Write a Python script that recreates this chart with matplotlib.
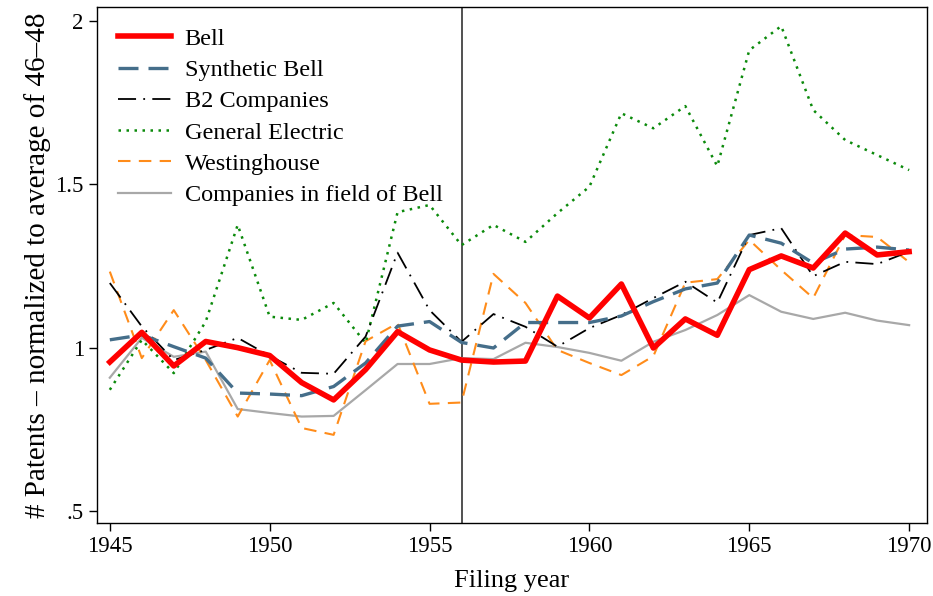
import matplotlib.pyplot as plt

years = list(range(1945, 1971))

bell = [0.956, 1.047, 0.944, 1.019, 1.000, 0.976, 0.893, 0.840, 0.933, 1.049,
        0.993, 0.962, 0.956, 0.959, 1.158, 1.091, 1.195, 0.999, 1.088, 1.038,
        1.239, 1.281, 1.244, 1.351, 1.284, 1.294]
synthetic_bell = [1.024, 1.039, 1.003, 0.968, 0.861, 0.858, 0.853, 0.881, 0.953, 1.066,
                  1.080, 1.016, 0.999, 1.077, 1.077, 1.077, 1.097, 1.141, 1.180, 1.198,
                  1.345, 1.320, 1.259, 1.302, 1.308, 1.299]
b2_companies = [1.198, 1.065, 0.962, 0.993, 1.030, 0.975, 0.923, 0.920, 1.034, 1.291,
                1.115, 1.018, 1.103, 1.064, 1.003, 1.060, 1.100, 1.152, 1.202, 1.138,
                1.345, 1.366, 1.219, 1.263, 1.256, 1.294]
general_electric = [0.871, 1.024, 0.922, 1.080, 1.376, 1.095, 1.085, 1.137, 1.014, 1.415,
                    1.437, 1.314, 1.376, 1.324, 1.412, 1.493, 1.718, 1.672, 1.740, 1.556,
                    1.911, 1.985, 1.728, 1.636, 1.590, 1.544]
westinghouse = [1.233, 0.968, 1.115, 0.962, 0.789, 0.962, 0.754, 0.733, 1.020, 1.075,
                0.828, 0.832, 1.226, 1.137, 0.993, 0.953, 0.916, 0.974, 1.199, 1.210,
                1.330, 1.238, 1.152, 1.345, 1.339, 1.262]
field_of_bell = [0.908, 1.030, 0.972, 0.988, 0.812, 0.800, 0.789, 0.791, 0.870, 0.950,
                 0.950, 0.968, 0.965, 1.015, 1.002, 0.984, 0.960, 1.018, 1.054, 1.100,
                 1.161, 1.110, 1.088, 1.107, 1.083, 1.069]

y_ticks = [0.5, 1, 1.5, 2]
y_tick_labels = [".5", "1", "1.5", "2"]
x_ticks = [1945, 1950, 1955, 1960, 1965, 1970]
break_year = 1956

plt.rcParams['font.family'] = ['Liberation Serif', 'DejaVu Serif']

fig = plt.figure(figsize=(9.33, 5.96), dpi=100)
ax = fig.add_axes([0.104, 0.1225, 0.8896, 0.8655])

ax.axvline(break_year, color='#333333', lw=1.2, zorder=1)

l_field, = ax.plot(years, field_of_bell, color='#a8a8a8', lw=1.6, zorder=2)
l_west, = ax.plot(years, westinghouse, color='#ff8c1a', lw=1.5, dashes=(6, 4), zorder=3)
l_ge, = ax.plot(years, general_electric, color='#0b8a0b', lw=1.8, dashes=(1, 2.2), zorder=3)
l_b2, = ax.plot(years, b2_companies, color='black', lw=1.3, dashes=(10, 4, 1, 4), zorder=4)
l_syn, = ax.plot(years, synthetic_bell, color='#456e8a', lw=2.4, dashes=(6, 3), zorder=5)
l_bell, = ax.plot(years, bell, color='#ff0000', lw=4.0, zorder=6)

ax.legend([l_bell, l_syn, l_b2, l_ge, l_west, l_field],
          ["Bell", "Synthetic Bell", "B2 Companies", "General Electric",
           "Westinghouse", "Companies in field of Bell"],
          loc='upper left', frameon=False, fontsize=17.5, handlelength=2.2,
          labelspacing=0.38, borderaxespad=0.45, handletextpad=0.55)

ax.set_xlim(1944.6, 1970.56)
ax.set_ylim(0.463, 2.043)
ax.set_xticks(x_ticks)
ax.set_yticks(y_ticks)
ax.set_yticklabels(y_tick_labels)
ax.tick_params(labelsize=16.5, length=6, width=1, direction='out')
ax.set_xlabel("Filing year", fontsize=19, labelpad=9)
ax.set_ylabel("# Patents – normalized to average of 46–48", fontsize=21, labelpad=3)
for s in ax.spines.values():
    s.set_linewidth(1.0)

fig.savefig("out.png", dpi=100)
